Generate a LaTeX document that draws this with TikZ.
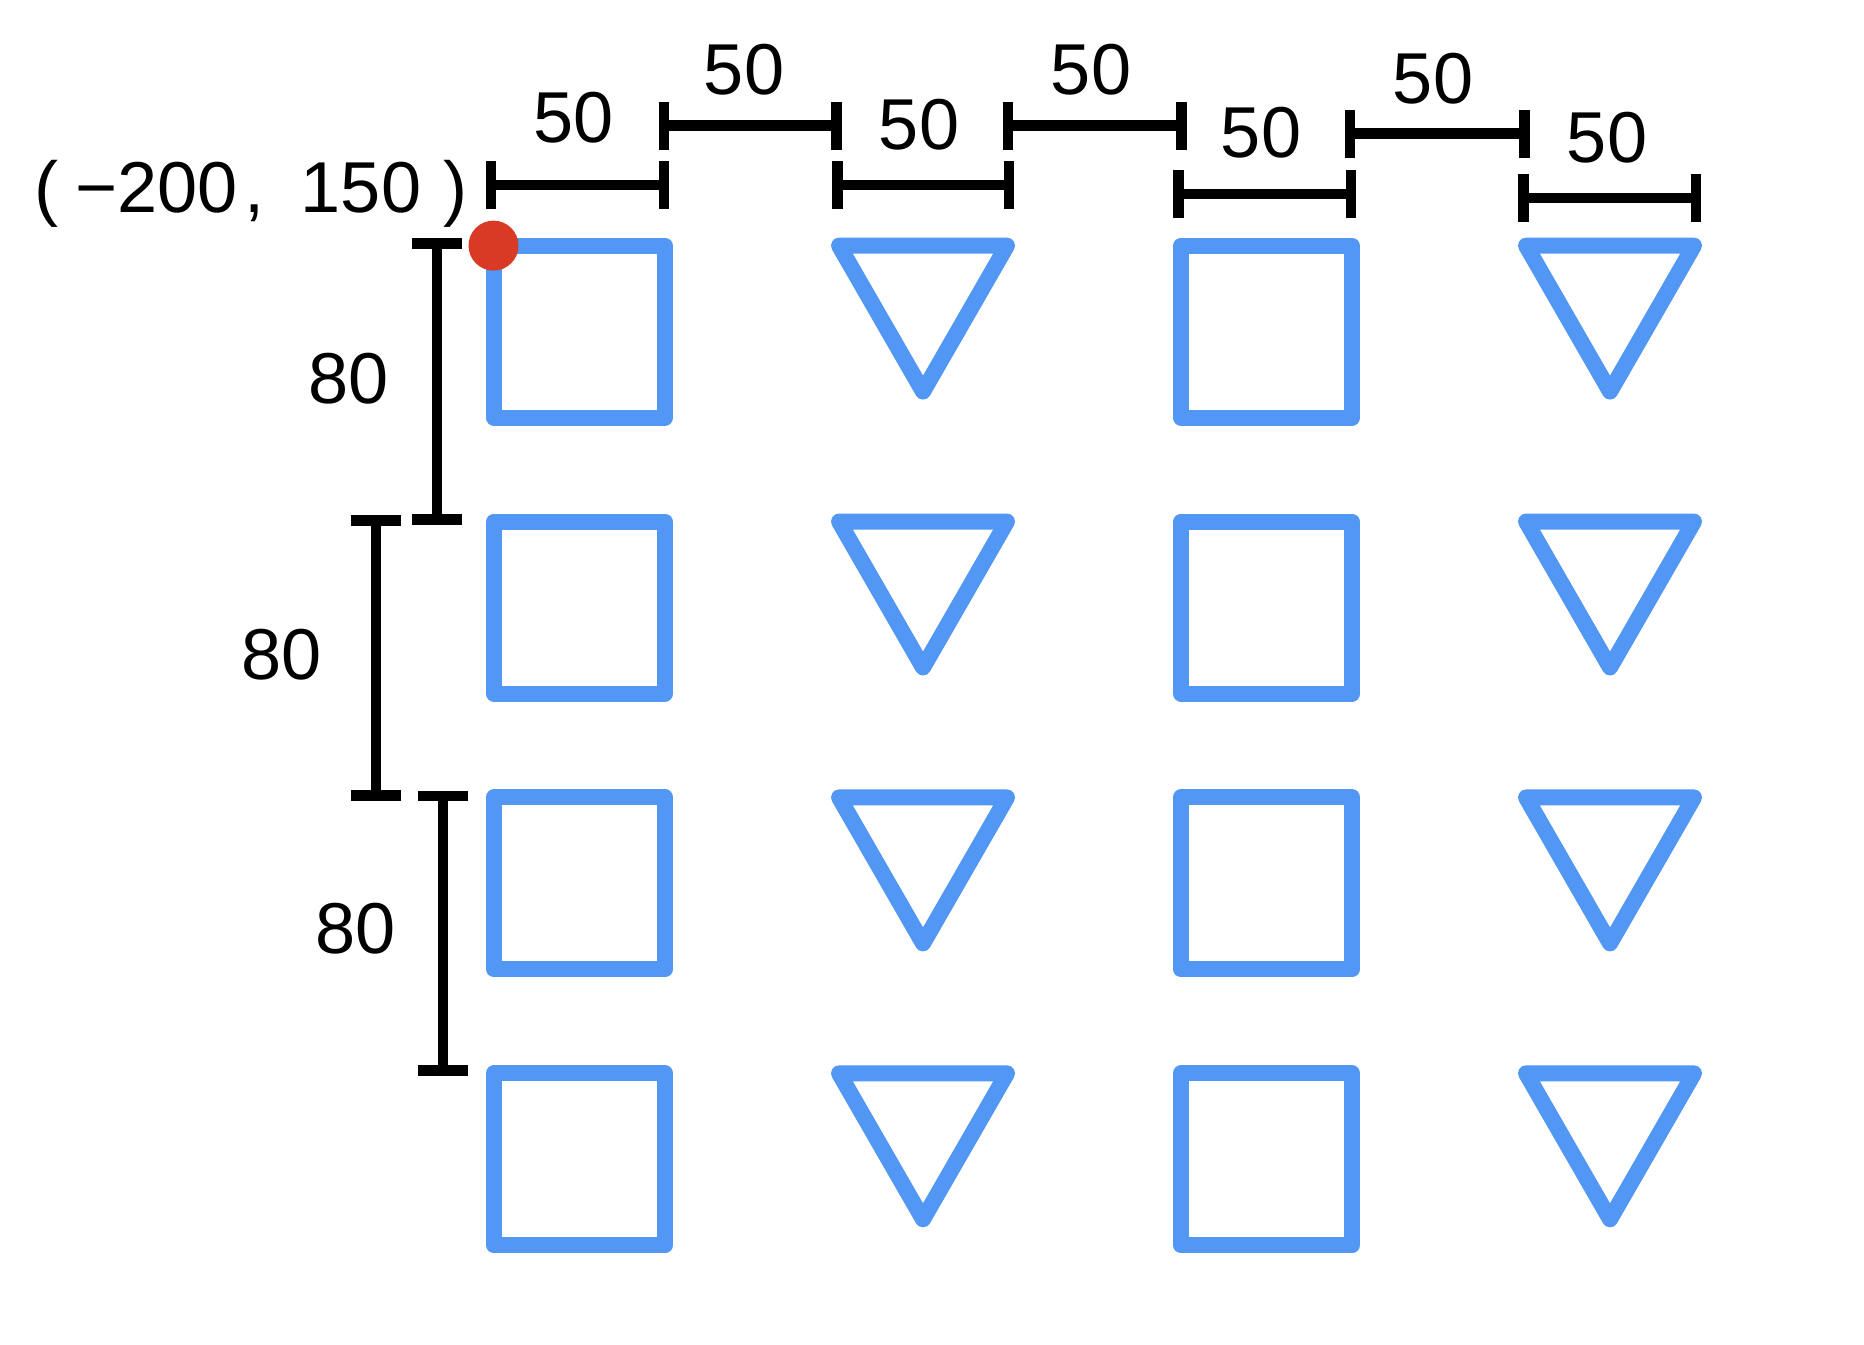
\documentclass[tikz,border=0pt]{standalone}
\usepackage{fontspec}
\setmainfont{Liberation Sans}
\definecolor{shapeblue}{RGB}{81,151,243}
\definecolor{dotred}{RGB}{217,58,38}
\begin{document}
\begin{tikzpicture}[x=0.01cm,y=-0.01cm,
  shapeline/.style={draw=shapeblue,line width=4.55pt,line join=round},
  dimline/.style={draw=black,line width=3.1pt},
  lbl/.style={inner sep=0pt,font=\fontsize{20.5pt}{24pt}\selectfont}]
\useasboundingbox (0,0) rectangle (1864,1344);
% shapes
\foreach \r in {0,1,2,3}{
  \pgfmathsetmacro{\ty}{245.6+275.9*\r}
  \foreach \cx in {579.5,1266.5}{
    \draw[shapeline] (\cx-85.5,\ty) rectangle (\cx+85.5,\ty+172);
  }
  \foreach \cx in {923,1610}{
    \draw[shapeline] (\cx-84,\ty) -- (\cx+84,\ty) -- (\cx,\ty+146) -- cycle;
  }
}
% horizontal dimensions
\foreach \xa/\xb/\yy/\lx/\ly/\nm in {491/664/185/574/118/h1,
  664/836.5/125.6/744/70/h2,
  837.5/1009/185/919/125/h3,
  1008/1181.7/125.6/1091/70/h4,
  1178.7/1351/194/1261/133/h5,
  1350/1524.7/133.7/1433/79/h6,
  1523.6/1696/198/1607/138/h7}{
  \coordinate (\nm a) at (\xa,\yy);
  \coordinate (\nm b) at (\xb,\yy);
  \draw[dimline] (\nm a) -- (\nm b);
  \draw[dimline] ([yshift=-0.24cm]\nm a) -- ([yshift=0.24cm]\nm a);
  \draw[dimline] ([yshift=-0.24cm]\nm b) -- ([yshift=0.24cm]\nm b);
  \node[lbl] (\nm) at (\lx,\ly) {50};
}
% vertical dimensions
\foreach \xx/\ya/\yb/\lx/\ly/\nm in {437/243.5/519.5/349/379/v1,
  376/520.7/795.7/281.5/655/v2,
  443/796/1070.6/356/929/v3}{
  \coordinate (\nm a) at (\xx,\ya);
  \coordinate (\nm b) at (\xx,\yb);
  \draw[dimline] (\nm a) -- (\nm b);
  \draw[dimline] ([xshift=-0.245cm]\nm a) -- ([xshift=0.245cm]\nm a);
  \draw[dimline] ([xshift=-0.245cm]\nm b) -- ([xshift=0.245cm]\nm b);
  \node[lbl] (\nm) at (\lx,\ly) {80};
}
% origin label and dot
\node[lbl,anchor=base west] (origin) at (34,212) {(\hspace{4.8pt}−200\hspace{2pt},\hspace{10.2pt}150\hspace{6.3pt})};
\fill[dotred] (493.5,245.6) circle[radius=25];
\end{tikzpicture}
\end{document}
